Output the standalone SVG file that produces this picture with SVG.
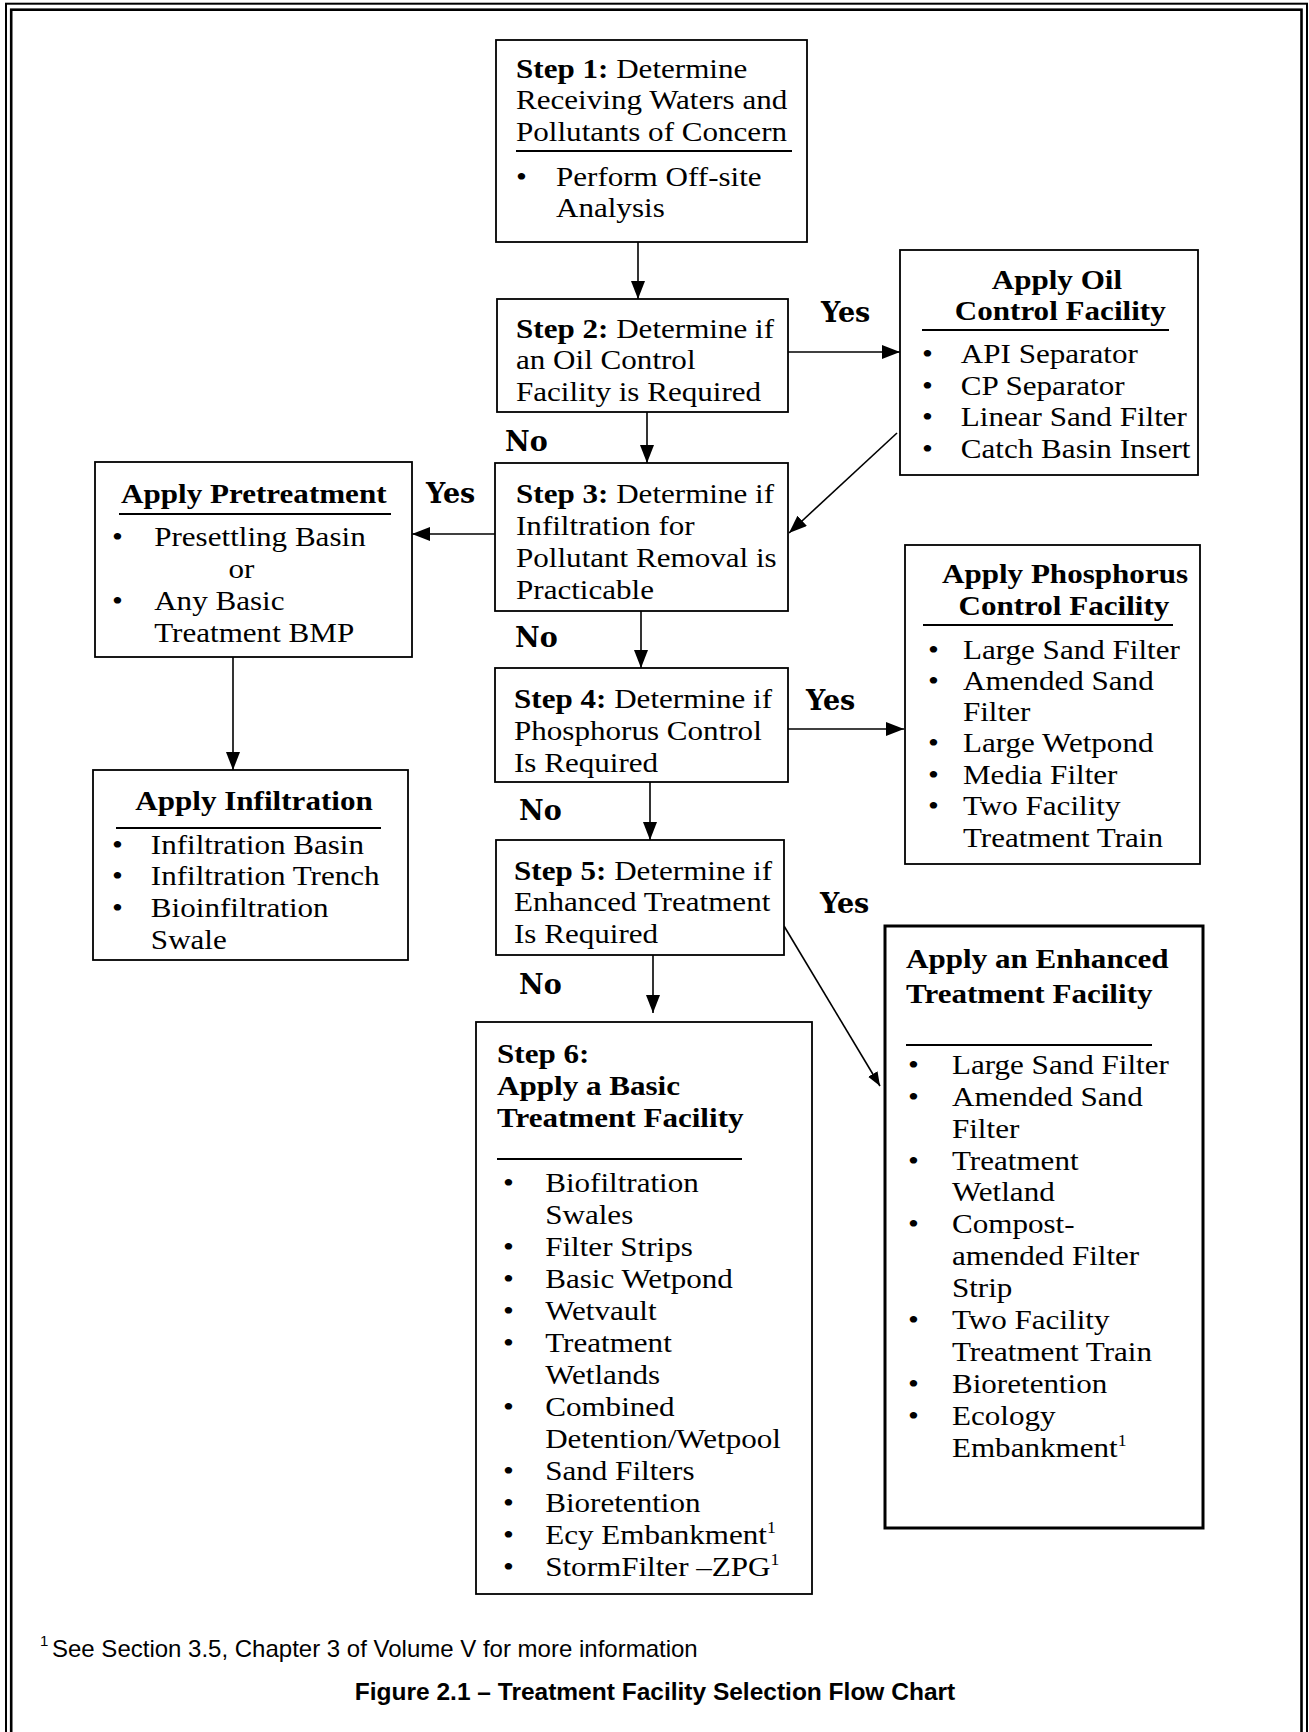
<svg xmlns="http://www.w3.org/2000/svg" width="1309" height="1732" viewBox="0 0 1309 1732">
<style>
.bg{fill:#fff}
.box{fill:#fff;stroke:#000;stroke-width:1.8}
.boxk{fill:#fff;stroke:#000;stroke-width:3}
.t{font-family:"Liberation Serif","Times New Roman",serif;font-size:28px;fill:#000}
.b{font-weight:bold}
.m{text-anchor:middle}
.yn{font-family:"DejaVu Serif","Liberation Serif",serif;font-weight:bold;font-size:27px;fill:#000}
.ul{stroke:#000;stroke-width:1.8}
.c{stroke:#000;stroke-width:1.6;fill:none}
.sans{font-family:"Liberation Sans",Arial,sans-serif;fill:#000}
.sup{font-size:16px}
</style>
<defs>
<marker id="ah" markerUnits="userSpaceOnUse" markerWidth="20" markerHeight="16" refX="18" refY="7" orient="auto">
<path d="M0,0 L18,7 L0,14 z" fill="#000"/>
</marker>
<marker id="ahs" markerUnits="userSpaceOnUse" markerWidth="16" markerHeight="12" refX="14" refY="5.5" orient="auto">
<path d="M0,0 L14,5.5 L0,11 z" fill="#000"/>
</marker>
</defs>
<rect class="bg" x="0" y="0" width="1309" height="1732"/>
<g id="frame" fill="none" stroke="#000">
<rect x="6" y="3.7" width="1301" height="1760" stroke-width="2"/>
<rect x="11.2" y="9.7" width="1290.3" height="1760" stroke-width="2.6"/>
</g>

<g id="connectors">
<line class="c" x1="638" y1="242" x2="638" y2="299" marker-end="url(#ah)"/>
<line class="c" x1="788" y1="352" x2="900" y2="352" marker-end="url(#ah)"/>
<line class="c" x1="647" y1="412" x2="647" y2="463" marker-end="url(#ah)"/>
<line class="c" x1="897" y1="433" x2="789" y2="533" marker-end="url(#ah)"/>
<line class="c" x1="495" y1="534" x2="412" y2="534" marker-end="url(#ah)"/>
<line class="c" x1="233" y1="657" x2="233" y2="770" marker-end="url(#ah)"/>
<line class="c" x1="641" y1="611" x2="641" y2="668" marker-end="url(#ah)"/>
<line class="c" x1="782" y1="729" x2="904" y2="729" marker-end="url(#ah)"/>
<line class="c" x1="650" y1="782" x2="650" y2="840" marker-end="url(#ah)"/>
<line class="c" x1="784" y1="926" x2="880" y2="1086" marker-end="url(#ahs)"/>
<line class="c" x1="653" y1="955" x2="653" y2="1013" marker-end="url(#ah)"/>
</g>

<g id="labels">
<text class="yn" x="821" y="322">Yes</text>
<text class="yn" x="505" y="451">No</text>
<text class="yn" x="426" y="503">Yes</text>
<text class="yn" x="515" y="647">No</text>
<text class="yn" x="806" y="710">Yes</text>
<text class="yn" x="519" y="820">No</text>
<text class="yn" x="820" y="913">Yes</text>
<text class="yn" x="519" y="994">No</text>
</g>

<g id="step1">
<rect class="box" x="496" y="40" width="311" height="202"/>
<line class="ul" x1="516" y1="151" x2="792" y2="151"/>
<g transform="translate(516,0) scale(1.11,1)">
<text class="t"><tspan x="0" y="78" class="b">Step 1:</tspan><tspan> Determine</tspan><tspan x="0" y="109">Receiving Waters and</tspan><tspan x="0" y="141">Pollutants of Concern</tspan><tspan x="0" y="186">•</tspan><tspan x="36" y="186">Perform Off-site</tspan><tspan x="36" y="217">Analysis</tspan></text>
</g>
</g>

<g id="step2">
<rect class="box" x="497" y="299" width="291" height="113"/>
<g transform="translate(516,0) scale(1.11,1)">
<text class="t"><tspan x="0" y="338" class="b">Step 2:</tspan><tspan> Determine if</tspan><tspan x="0" y="369">an Oil Control</tspan><tspan x="0" y="401">Facility is Required</tspan></text>
</g>
</g>

<g id="oil">
<rect class="box" x="900" y="250" width="298" height="225"/>
<line class="ul" x1="922" y1="330" x2="1169" y2="330"/>
<g transform="translate(1058,0) scale(1.11,1)">
<text class="t b m"><tspan x="-1" y="289">Apply Oil</tspan><tspan x="2" y="320">Control Facility</tspan></text>
</g>
<g transform="translate(922,0) scale(1.11,1)">
<text class="t"><tspan x="0" y="363">•</tspan><tspan x="35" y="363">API Separator</tspan><tspan x="0" y="395">•</tspan><tspan x="35" y="395">CP Separator</tspan><tspan x="0" y="426">•</tspan><tspan x="35" y="426">Linear Sand Filter</tspan><tspan x="0" y="458">•</tspan><tspan x="35" y="458">Catch Basin Insert</tspan></text>
</g>
</g>

<g id="step3">
<rect class="box" x="495" y="463" width="293" height="148"/>
<g transform="translate(516,0) scale(1.11,1)">
<text class="t"><tspan x="0" y="503" class="b">Step 3:</tspan><tspan> Determine if</tspan><tspan x="0" y="535">Infiltration for</tspan><tspan x="0" y="567">Pollutant Removal is</tspan><tspan x="0" y="599">Practicable</tspan></text>
</g>
</g>

<g id="pretreatment">
<rect class="box" x="95" y="462" width="317" height="195"/>
<line class="ul" x1="119" y1="514" x2="391" y2="514"/>
<g transform="translate(121,0) scale(1.11,1)">
<text class="t b" x="0" y="503">Apply Pretreatment</text>
</g>
<g transform="translate(112,0) scale(1.11,1)">
<text class="t"><tspan x="0" y="546">•</tspan><tspan x="38" y="546">Presettling Basin</tspan><tspan x="105" y="578">or</tspan><tspan x="0" y="610">•</tspan><tspan x="38" y="610">Any Basic</tspan><tspan x="38" y="642">Treatment BMP</tspan></text>
</g>
</g>

<g id="infiltration">
<rect class="box" x="93" y="770" width="315" height="190"/>
<line class="ul" x1="116" y1="828" x2="381" y2="828"/>
<g transform="translate(254,0) scale(1.11,1)">
<text class="t b m" x="0" y="810">Apply Infiltration</text>
</g>
<g transform="translate(112,0) scale(1.11,1)">
<text class="t"><tspan x="0" y="854">•</tspan><tspan x="35" y="854">Infiltration Basin</tspan><tspan x="0" y="885">•</tspan><tspan x="35" y="885">Infiltration Trench</tspan><tspan x="0" y="917">•</tspan><tspan x="35" y="917">Bioinfiltration</tspan><tspan x="35" y="949">Swale</tspan></text>
</g>
</g>

<g id="step4">
<rect class="box" x="495" y="668" width="293" height="114"/>
<g transform="translate(514,0) scale(1.11,1)">
<text class="t"><tspan x="0" y="708" class="b">Step 4:</tspan><tspan> Determine if</tspan><tspan x="0" y="740">Phosphorus Control</tspan><tspan x="0" y="772">Is Required</tspan></text>
</g>
</g>

<g id="phosphorus">
<rect class="box" x="905" y="545" width="295" height="319"/>
<line class="ul" x1="923" y1="625" x2="1173" y2="625"/>
<g transform="translate(1065,0) scale(1.11,1)">
<text class="t b m"><tspan x="0" y="583">Apply Phosphorus</tspan><tspan x="-1" y="615">Control Facility</tspan></text>
</g>
<g transform="translate(928,0) scale(1.11,1)">
<text class="t"><tspan x="0" y="659">•</tspan><tspan x="31.5" y="659">Large Sand Filter</tspan><tspan x="0" y="690">•</tspan><tspan x="31.5" y="690">Amended Sand</tspan><tspan x="31.5" y="721">Filter</tspan><tspan x="0" y="752">•</tspan><tspan x="31.5" y="752">Large Wetpond</tspan><tspan x="0" y="784">•</tspan><tspan x="31.5" y="784">Media Filter</tspan><tspan x="0" y="815">•</tspan><tspan x="31.5" y="815">Two Facility</tspan><tspan x="31.5" y="847">Treatment Train</tspan></text>
</g>
</g>

<g id="step5">
<rect class="box" x="496" y="840" width="288" height="115"/>
<g transform="translate(514,0) scale(1.11,1)">
<text class="t"><tspan x="0" y="880" class="b">Step 5:</tspan><tspan> Determine if</tspan><tspan x="0" y="911">Enhanced Treatment</tspan><tspan x="0" y="943">Is Required</tspan></text>
</g>
</g>

<g id="step6">
<rect class="box" x="476" y="1022" width="336" height="572"/>
<line class="ul" x1="497" y1="1159" x2="742" y2="1159"/>
<g transform="translate(497,0) scale(1.11,1)">
<text class="t b"><tspan x="0" y="1063">Step 6:</tspan><tspan x="0" y="1095">Apply a Basic</tspan><tspan x="0" y="1127">Treatment Facility</tspan></text>
</g>
<g transform="translate(503,0) scale(1.11,1)">
<text class="t"><tspan x="0" y="1192">•</tspan><tspan x="38" y="1192">Biofiltration</tspan><tspan x="38" y="1224">Swales</tspan><tspan x="0" y="1256">•</tspan><tspan x="38" y="1256">Filter Strips</tspan><tspan x="0" y="1288">•</tspan><tspan x="38" y="1288">Basic Wetpond</tspan><tspan x="0" y="1320">•</tspan><tspan x="38" y="1320">Wetvault</tspan><tspan x="0" y="1352">•</tspan><tspan x="38" y="1352">Treatment</tspan><tspan x="38" y="1384">Wetlands</tspan><tspan x="0" y="1416">•</tspan><tspan x="38" y="1416">Combined</tspan><tspan x="38" y="1448">Detention/Wetpool</tspan><tspan x="0" y="1480">•</tspan><tspan x="38" y="1480">Sand Filters</tspan><tspan x="0" y="1512">•</tspan><tspan x="38" y="1512">Bioretention</tspan><tspan x="0" y="1544">•</tspan><tspan x="38" y="1544">Ecy Embankment</tspan><tspan class="sup" dy="-11">1</tspan><tspan x="0" y="1576">•</tspan><tspan x="38" y="1576">StormFilter –ZPG</tspan><tspan class="sup" dy="-11">1</tspan></text>
</g>
</g>

<g id="enhanced">
<rect class="boxk" x="885" y="926" width="318" height="602"/>
<line class="ul" x1="906" y1="1045" x2="1152" y2="1045"/>
<g transform="translate(906,0) scale(1.11,1)">
<text class="t b"><tspan x="0" y="968">Apply an Enhanced</tspan><tspan x="0" y="1003">Treatment Facility</tspan></text>
</g>
<g transform="translate(908,0) scale(1.11,1)">
<text class="t"><tspan x="0" y="1074">•</tspan><tspan x="39.6" y="1074">Large Sand Filter</tspan><tspan x="0" y="1106">•</tspan><tspan x="39.6" y="1106">Amended Sand</tspan><tspan x="39.6" y="1138">Filter</tspan><tspan x="0" y="1170">•</tspan><tspan x="39.6" y="1170">Treatment</tspan><tspan x="39.6" y="1201">Wetland</tspan><tspan x="0" y="1233">•</tspan><tspan x="39.6" y="1233">Compost-</tspan><tspan x="39.6" y="1265">amended Filter</tspan><tspan x="39.6" y="1297">Strip</tspan><tspan x="0" y="1329">•</tspan><tspan x="39.6" y="1329">Two Facility</tspan><tspan x="39.6" y="1361">Treatment Train</tspan><tspan x="0" y="1393">•</tspan><tspan x="39.6" y="1393">Bioretention</tspan><tspan x="0" y="1425">•</tspan><tspan x="39.6" y="1425">Ecology</tspan><tspan x="39.6" y="1457">Embankment</tspan><tspan class="sup" dy="-11">1</tspan></text>
</g>
</g>

<g id="footnote">
<text class="sans"><tspan x="40" y="1646" font-size="15">1</tspan><tspan x="52" y="1657" font-size="24">See Section 3.5, Chapter 3 of Volume V for more information</tspan></text>
<text class="sans" x="655" y="1700" font-size="24.5" font-weight="bold" text-anchor="middle">Figure 2.1 – Treatment Facility Selection Flow Chart</text>
</g>
</svg>
